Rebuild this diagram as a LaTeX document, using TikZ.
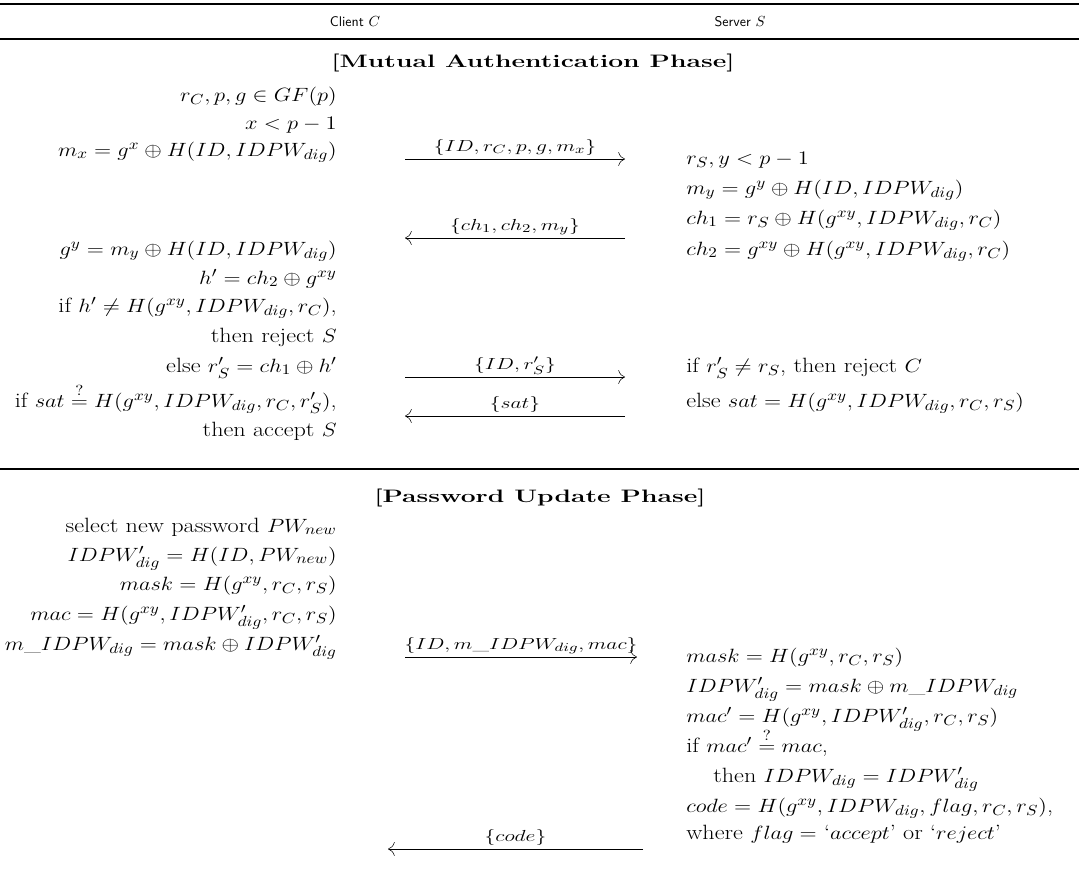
\documentclass[tikz,border=0pt]{standalone}
\usepackage{amsmath, amssymb}
\usetikzlibrary{arrows.meta}

\begin{document}
\begin{tikzpicture}[x=0.75pt, y=-0.75pt, every node/.style={font=\fontsize{15.5}{18}\selectfont, inner sep=0pt},
    cl/.style={anchor=base east, xscale=1.17}, sv/.style={anchor=base west, xscale=1.17},
    hd/.style={anchor=base, font=\sffamily\fontsize{10.5}{12}\selectfont},
    phase/.style={anchor=base, font=\bfseries\fontsize{13.5}{16}\selectfont, xscale=1.47},
    lbl/.style={anchor=base, font=\fontsize{12.5}{14}\selectfont, xscale=1.35, yshift=6pt},
    msg/.style={-{To[length=5pt]}, line width=0.4pt},
    rule/.style={line width=1.2pt}]
  \useasboundingbox (0,0) rectangle (1079,883);
  \draw[rule] (0,4) -- (1079,4);
  \node[hd] (client) at (355,26) {Client $C$};
  \node[hd] (server) at (740,26) {Server $S$};
  \draw[rule] (0,39) -- (1079,39);
  \node[phase] (mutual) at (533,67) {[Mutual Authentication Phase]};
  \node[cl] (c1) at (337,101) {$r_C, p, g \in GF(p)$};
  \node[cl] (c2) at (337,129) {$x < p - 1$};
  \node[cl] (c3) at (337,156) {$m_x = g^x \oplus H(ID, IDPW_{dig})$};
  \node[sv] (s1) at (686,164) {$r_S, y < p - 1$};
  \node[sv] (s2) at (686,194) {$m_y = g^y \oplus H(ID, IDPW_{dig})$};
  \node[sv] (s3) at (686,224) {$ch_1 = r_S \oplus H(g^{xy}, IDPW_{dig}, r_C)$};
  \node[sv] (s4) at (686,255) {$ch_2 = g^{xy} \oplus H(g^{xy}, IDPW_{dig}, r_C)$};
  \node[cl] (c4) at (337,255) {$g^y = m_y \oplus H(ID, IDPW_{dig})$};
  \node[cl] (c5) at (337,284) {$h' = ch_2 \oplus g^{xy}$};
  \node[cl] (c6) at (337,312) {if $h' \neq H(g^{xy}, IDPW_{dig}, r_C)$,};
  \node[cl] (c7) at (337,342) {then reject $S$};
  \node[cl] (c8) at (337,372) {else $r'_S = ch_1 \oplus h'$};
  \node[cl] (c9) at (337,407) {if $sat \stackrel{?}{=} H(g^{xy}, IDPW_{dig}, r_C, r'_S)$,};
  \node[cl] (c10) at (337,436) {then accept $S$};
  \node[sv] (s5) at (686,372) {if $r'_S \neq r_S$, then reject $C$};
  \node[sv] (s6) at (686,407) {else $sat = H(g^{xy}, IDPW_{dig}, r_C, r_S)$};
  \coordinate (m1a) at (405,159);
  \coordinate (m1b) at (625,159);
  \coordinate (m2a) at (625,238);
  \coordinate (m2b) at (405,238);
  \coordinate (m3a) at (405,377);
  \coordinate (m3b) at (625,377);
  \coordinate (m4a) at (625,416);
  \coordinate (m4b) at (405,416);
  \draw[msg] (m1a) -- node[lbl] (t1) {$\{ID, r_C, p, g, m_x\}$} (m1b);
  \draw[msg] (m2a) -- node[lbl] (t2) {$\{ch_1, ch_2, m_y\}$} (m2b);
  \draw[msg] (m3a) -- node[lbl] (t3) {$\{ID, r'_S\}$} (m3b);
  \draw[msg] (m4a) -- node[lbl] (t4) {$\{sat\}$} (m4b);
  \draw[rule] (0,469) -- (1079,469);
  \node[phase] (update) at (540,502) {[Password Update Phase]};
  \node[cl] (c11) at (337,532) {select new password $PW_{new}$};
  \node[cl] (c12) at (337,561) {$IDPW'_{dig} = H(ID, PW_{new})$};
  \node[cl] (c13) at (337,590) {$mask = H(g^{xy}, r_C, r_S)$};
  \node[cl] (c14) at (337,620) {$mac = H(g^{xy}, IDPW'_{dig}, r_C, r_S)$};
  \node[cl] (c15) at (337,650) {$m\_IDPW_{dig} = mask \oplus IDPW'_{dig}$};
  \node[sv] (s7) at (686,662) {$mask = H(g^{xy}, r_C, r_S)$};
  \node[sv] (s8) at (686,692) {$IDPW'_{dig} = mask \oplus m\_IDPW_{dig}$};
  \node[sv] (s9) at (686,722) {$mac' = H(g^{xy}, IDPW'_{dig}, r_C, r_S)$};
  \node[sv] (s10) at (686,752) {if $mac' \stackrel{?}{=} mac$,};
  \node[sv] (s11) at (713,782) {then $IDPW_{dig} = IDPW'_{dig}$};
  \node[sv] (s12) at (686,812) {$code = H(g^{xy}, IDPW_{dig}, flag, r_C, r_S)$,};
  \node[sv] (s13) at (686,839) {where $flag =$ `$accept$' or `$reject$'};
  \coordinate (m5a) at (405,657);
  \coordinate (m5b) at (637,657);
  \coordinate (m6a) at (643,849);
  \coordinate (m6b) at (388,849);
  \draw[msg] (m5a) -- node[lbl] (t5) {$\{ID, m\_IDPW_{dig}, mac\}$} (m5b);
  \draw[msg] (m6a) -- node[lbl] (t6) {$\{code\}$} (m6b);
\end{tikzpicture}
\end{document}
